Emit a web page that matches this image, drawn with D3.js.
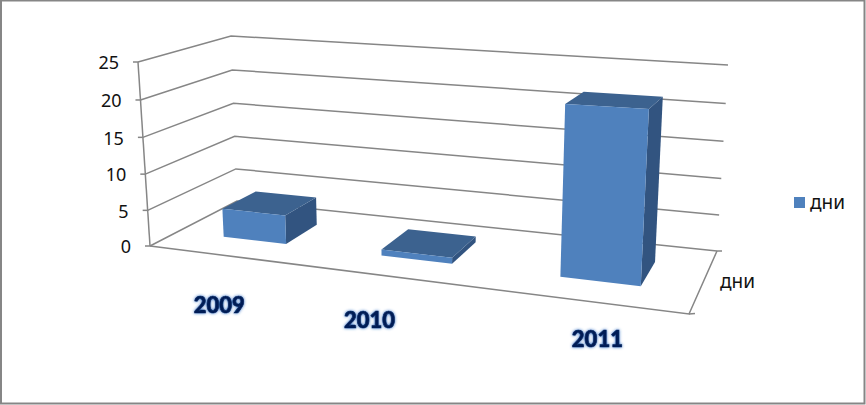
<!DOCTYPE html>
<html>
<head>
<meta charset="utf-8">
<script src="https://cdn.jsdelivr.net/npm/d3@7"></script>
<style>
  html, body { margin: 0; padding: 0; background: #fff; }
  svg { display: block; }
  text { font-family: "Noto Sans", sans-serif; fill: #111; }
</style>
</head>
<body>
<div id="chart"></div>
<script>
const years = ['2009', '2010', '2011']
const days = [4, 0.8, 21.5]
const seriesName = 'дни'

const width = 866
const height = 405

const svg = d3.select('#chart').append('svg')
  .attr('width', width)
  .attr('height', height)

// corners of the box as seen on screen: front left, front right, back right, back left
const floorCorners = [[150, 246], [689, 314], [717, 251], [237, 201]]
const topCorners = [[138, 62], [702, 91], [728, 65], [231, 36]]
// verticals lean towards this point, far under the chart
const vanish = [430, 4800]
const lean = -0.0388

const valueScale = d3.scaleLinear().domain([0, 25]).range([0, 1])
const categoryScale = d3.scaleBand().domain(years).range([0.005, 1.005]).paddingInner(0.59).paddingOuter(0.295)
const depthScale = d3.scaleLinear().domain([0, 1]).range([0.3, 0.7])

// unit square -> quad, so the bars and gridlines keep their perspective
function quadMap(c) {
  const [x0, y0] = c[0], [x1, y1] = c[1], [x2, y2] = c[2], [x3, y3] = c[3]
  const dx1 = x1 - x2, dx2 = x3 - x2, sx = x0 - x1 + x2 - x3
  const dy1 = y1 - y2, dy2 = y3 - y2, sy = y0 - y1 + y2 - y3
  const den = dx1 * dy2 - dx2 * dy1
  const g = (sx * dy2 - dx2 * sy) / den
  const h = (dx1 * sy - sx * dy1) / den
  return function(u, v) {
    const w = 1 + g * u + h * v
    return [
      ((x1 - x0 + g * x1) * u + (x3 - x0 + h * x3) * v + x0) / w,
      ((y1 - y0 + g * y1) * u + (y3 - y0 + h * y3) * v + y0) / w,
      w
    ]
  }
}

const floorMap = quadMap(floorCorners)

function raise(u, v, t) {
  const [x, y, w] = floorMap(u, v)
  return [
    (w * x + t * lean * vanish[0]) / (w + t * lean),
    (w * y + t * lean * vanish[1]) / (w + t * lean)
  ]
}

// what is left between the camera model and the box corners
const cornerUV = [[0, 0], [1, 0], [1, 1], [0, 1]]
const residual = cornerUV.map((c, i) => {
  const p = raise(c[0], c[1], 1)
  return [topCorners[i][0] - p[0], topCorners[i][1] - p[1]]
})

function project(u, v, value) {
  const t = valueScale(value)
  const p = raise(u, v, t)
  const k = [(1 - u) * (1 - v), u * (1 - v), u * v, (1 - u) * v]
  return [
    p[0] + t * d3.sum(residual, (r, i) => r[0] * k[i]),
    p[1] + t * d3.sum(residual, (r, i) => r[1] * k[i])
  ]
}

const line = d3.line()
const gridColor = '#868686'

// soft halo behind the year labels
const glow = svg.append('defs').append('filter')
  .attr('id', 'glow')
  .attr('x', '-30%').attr('y', '-30%').attr('width', '160%').attr('height', '170%')
glow.append('feGaussianBlur').attr('in', 'SourceAlpha').attr('stdDeviation', 1.8).attr('result', 'blur')
glow.append('feFlood').attr('flood-color', '#2f6cc4').attr('flood-opacity', 1)
glow.append('feComposite').attr('in2', 'blur').attr('operator', 'in').attr('result', 'halo')
const merge = glow.append('feMerge')
merge.append('feMergeNode').attr('in', 'halo')
merge.append('feMergeNode').attr('in', 'SourceGraphic')

// frame
svg.append('rect')
  .attr('x', 1).attr('y', 0.5)
  .attr('width', width - 2.5).attr('height', height - 2)
  .attr('fill', '#fff')
  .attr('stroke', gridColor)
  .attr('stroke-width', 2)

const ticks = valueScale.ticks(5)

// gridlines on the left and back walls
const grid = svg.append('g')
  .attr('fill', 'none')
  .attr('stroke', gridColor)
  .attr('stroke-width', 1.5)

grid.selectAll('.wall')
  .data(ticks)
  .enter()
  .append('path')
  .attr('class', 'wall')
  .attr('d', d => line([project(0, 0, d), project(0, 1, d), project(1, 1, d)]))

// value axis with ticks
grid.append('path').attr('d', line([project(0, 0, 0), project(0, 0, 25)]))
grid.selectAll('.tick-mark')
  .data(ticks)
  .enter()
  .append('path')
  .attr('class', 'tick-mark')
  .attr('d', d => {
    const p = project(0, 0, d)
    return line([[p[0] - 5, p[1]], p])
  })

// floor edges
grid.append('path').attr('d', line([project(0, 0, 0), project(1, 0, 0), project(1, 1, 0)]))
grid.append('path').attr('d', () => {
  const p = project(1, 0, 0)
  return line([p, [p[0] + 6, p[1] - 0.5]])
})
grid.append('path').attr('d', () => {
  const p = project(1, 1, 0)
  return line([p, [p[0] + 5, p[1]]])
})

// value labels
svg.selectAll('.value-label')
  .data(ticks)
  .enter()
  .append('text')
  .attr('class', 'value-label')
  .attr('x', d => project(0, 0, d)[0] - 19)
  .attr('y', d => project(0, 0, d)[1] + 1)
  .attr('dy', '0.35em')
  .attr('text-anchor', 'end')
  .attr('font-size', 18)
  .text(d => d)

// bars, each one front, side and top
const bars = svg.selectAll('.bar')
  .data(years.map((year, i) => ({ year: year, value: days[i] })))
  .enter()
  .append('g')
  .attr('class', 'bar')

function face(d, corners) {
  const u0 = categoryScale(d.year)
  const u1 = u0 + categoryScale.bandwidth()
  const pts = { u0: u0, u1: u1, v0: depthScale(0), v1: depthScale(1) }
  return line(corners.map(c => project(pts[c[0]], pts[c[1]], c[2] ? d.value : 0))) + 'Z'
}

bars.append('path')
  .attr('fill', '#325480')
  .attr('d', d => face(d, [['u1', 'v0', 0], ['u1', 'v1', 0], ['u1', 'v1', 1], ['u1', 'v0', 1]]))
bars.append('path')
  .attr('fill', '#3c628f')
  .attr('d', d => face(d, [['u0', 'v0', 1], ['u1', 'v0', 1], ['u1', 'v1', 1], ['u0', 'v1', 1]]))
bars.append('path')
  .attr('fill', '#4f81bd')
  .attr('d', d => face(d, [['u0', 'v0', 0], ['u1', 'v0', 0], ['u1', 'v0', 1], ['u0', 'v0', 1]]))

// year labels were dragged by hand in the original, so each has its own shift
const labelShiftX = [-9, -26, 11]
const labelShiftY = [57, 51, 46]

svg.selectAll('.year-label')
  .data(years)
  .enter()
  .append('text')
  .attr('class', 'year-label')
  .attr('x', (d, i) => project(categoryScale(d) + categoryScale.bandwidth() / 2, 0, 0)[0] + labelShiftX[i])
  .attr('y', (d, i) => project(categoryScale(d) + categoryScale.bandwidth() / 2, 0, 0)[1] + labelShiftY[i])
  .attr('text-anchor', 'middle')
  .attr('font-size', 22)
  .attr('font-weight', 900)
  .attr('filter', 'url(#glow)')
  .style('font-family', 'Lato, sans-serif')
  .style('fill', '#041f57')
  .style('stroke', '#041f57')
  .style('stroke-width', 0.7)
  .text(d => d)

// series label on the depth axis
svg.append('text')
  .attr('x', 720)
  .attr('y', 288)
  .attr('font-size', 19)
  .text(seriesName)

// legend
const legend = svg.append('g').attr('transform', 'translate(794,197)')
legend.append('rect').attr('width', 11).attr('height', 11).attr('fill', '#4f81bd')
legend.append('text').attr('x', 16).attr('y', 12).attr('font-size', 19).text(seriesName)
</script>
</body>
</html>
